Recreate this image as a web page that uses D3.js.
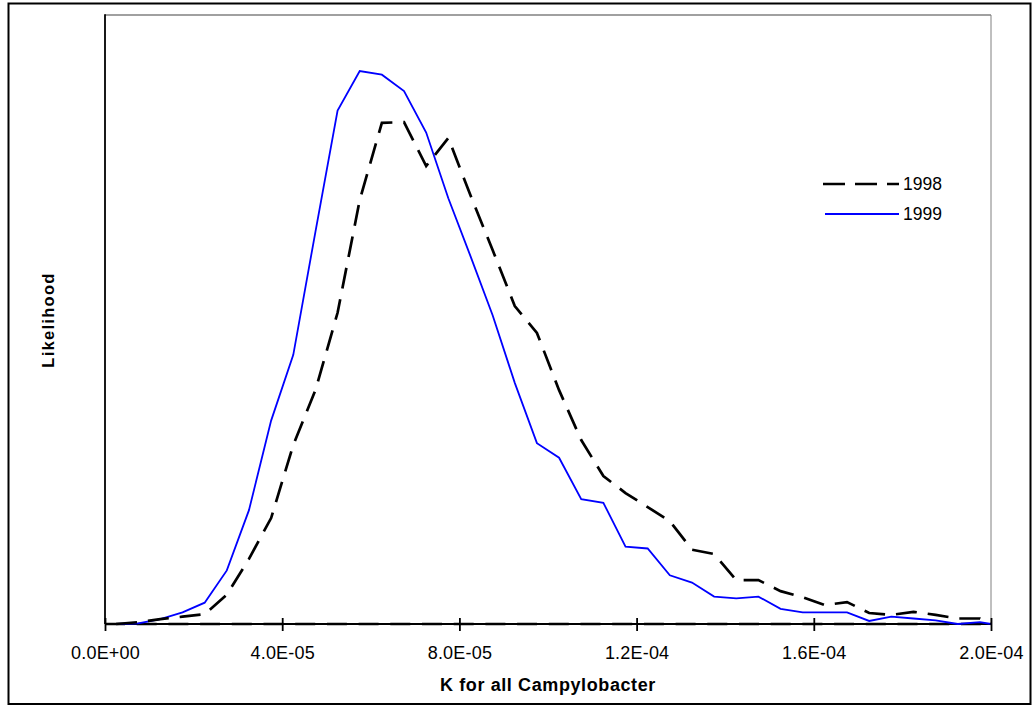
<!DOCTYPE html>
<html>
<head>
<meta charset="utf-8">
<script src="https://cdn.jsdelivr.net/npm/d3@7"></script>
<style>
  html, body { margin: 0; padding: 0; background: #fff; }
  svg { display: block; }
  text { font-family: "Liberation Sans", Arial, sans-serif; fill: #000; }
</style>
</head>
<body>
<svg id="chart" width="1036" height="706"></svg>
<script>
// ---- data ----
// bin midpoints (K values), 2.5e-6 .. 197.5e-6, then closing point at 2.0e-4
const kValues = d3.range(40).map(i => (2.5 + 5 * i) * 1e-6).concat([2.0e-4]);
const series1998 = [0, 0.3, 0.8, 1.2, 1.6, 4.8, 10.7, 17.4, 29.4, 38.4,
  51.1, 69.6, 82.3, 82.4, 75.2, 79.8, 70.4, 61.4, 52.2, 47.8,
  38.4, 30.2, 24.3, 21.5, 19.2, 16.9, 12.2, 11.5, 7.2, 7.2,
  5.4, 4.4, 3.1, 3.6, 1.8, 1.5, 2.0, 1.5, 0.9, 0.9, 0];
const series1999 = [0, 0.1, 0.8, 1.9, 3.5, 8.8, 18.7, 33.4, 44.2, 64.4,
  84.3, 90.8, 90.2, 87.5, 80.7, 69.9, 60.4, 50.7, 39.6, 29.7,
  27.3, 20.5, 19.9, 12.7, 12.4, 8.0, 6.8, 4.5, 4.2, 4.5,
  2.5, 1.9, 1.9, 1.9, 0.5, 1.2, 0.9, 0.6, 0, 0.3, 0];
// 1998 series also runs back along zero
const baseline1998K = [0, 2.0e-4];
const baseline1998V = [0, 0];
const xTicks = [0, 4e-5, 8e-5, 1.2e-4, 1.6e-4, 2.0e-4];
const xTickLabels = ["0.0E+00", "4.0E-05", "8.0E-05", "1.2E-04", "1.6E-04", "2.0E-04"];
const legendNames = ["1998", "1999"];
const xTitle = "K for all Campylobacter";
const yTitle = "Likelihood";

// ---- layout ----
const svg = d3.select("#chart");
const plot = { left: 105, right: 991, top: 15, bottom: 624 };

const x = d3.scaleLinear().domain([0, 2.0e-4]).range([plot.left, plot.right]);
const y = d3.scaleLinear().domain([0, 100]).range([plot.bottom, plot.top]);

// outer frame
svg.append("rect")
  .attr("x", 8.5).attr("y", 3.5).attr("width", 1022).attr("height", 700.5)
  .attr("fill", "none").attr("stroke", "#000").attr("stroke-width", 2);

// plot area border (gray top & right)
svg.append("line").attr("x1", plot.left).attr("x2", plot.right)
  .attr("y1", plot.top).attr("y2", plot.top)
  .attr("stroke", "#808080").attr("stroke-width", 1.7);
svg.append("line").attr("x1", plot.right).attr("x2", plot.right)
  .attr("y1", plot.top).attr("y2", plot.bottom)
  .attr("stroke", "#808080").attr("stroke-width", 1);

// left axis line
svg.append("line").attr("x1", plot.left).attr("x2", plot.left)
  .attr("y1", plot.top - 0.8).attr("y2", plot.bottom)
  .attr("stroke", "#000").attr("stroke-width", 1.8);

// bottom axis
const xAxis = d3.axisBottom(x).tickValues(xTicks)
  .tickFormat((d, i) => xTickLabels[i]).tickSize(7).tickPadding(16);
const gx = svg.append("g").attr("transform", `translate(0,${plot.bottom})`).call(xAxis);
gx.select(".domain").attr("stroke", "#000").attr("stroke-width", 1.8)
  .attr("d", `M${plot.left},0H${plot.right}`);
gx.selectAll(".tick line").attr("stroke", "#000").attr("stroke-width", 1.8)
  .attr("y1", -6).attr("y2", 7);
gx.selectAll(".tick text")
  .style("font-family", '"Liberation Sans", Arial, sans-serif')
  .style("font-size", "18px").style("letter-spacing", "0.2px")
  .attr("fill", "#000").attr("dy", null).attr("y", 35);

// lines
const line = d3.line().x(d => x(d[0])).y(d => y(d[1]));
const data1998 = kValues.map((k, i) => [k, series1998[i]]);
const data1999 = kValues.map((k, i) => [k, series1999[i]]);
const base1998 = baseline1998K.map((k, i) => [k, baseline1998V[i]]);

svg.append("path").datum(base1998).attr("d", line)
  .attr("fill", "none").attr("stroke", "#000").attr("stroke-width", 2.7)
  .attr("stroke-dasharray", "20,11.7");
svg.append("path").datum(data1999).attr("d", line)
  .attr("fill", "none").attr("stroke", "#0000ff").attr("stroke-width", 1.8)
  .attr("stroke-linejoin", "miter");
svg.append("path").datum(data1998).attr("d", line)
  .attr("fill", "none").attr("stroke", "#000").attr("stroke-width", 2.7)
  .attr("stroke-dasharray", "21,11").attr("stroke-linejoin", "miter");

// legend
const leg = svg.append("g");
const legStyles = [
  { stroke: "#000", width: 2.7, dash: "22,10", y: 184, x1: 823 },
  { stroke: "#0000ff", width: 1.8, dash: null, y: 214, x1: 825 }
];
legendNames.forEach((name, i) => {
  const s = legStyles[i];
  leg.append("line").attr("x1", s.x1).attr("x2", 899).attr("y1", s.y).attr("y2", s.y)
    .attr("stroke", s.stroke).attr("stroke-width", s.width)
    .attr("stroke-dasharray", s.dash);
  leg.append("text").attr("x", 903).attr("y", s.y + 6)
    .style("font-size", "17.5px").text(name);
});

// axis titles
svg.append("text").attr("x", 548).attr("y", 691).attr("text-anchor", "middle")
  .style("font-size", "18px").style("font-weight", "bold").style("letter-spacing", "0.6px")
  .text(xTitle);
svg.append("text").attr("transform", "translate(54,320) rotate(-90)")
  .attr("text-anchor", "middle")
  .style("font-size", "16.5px").style("font-weight", "bold").style("letter-spacing", "1.3px")
  .text(yTitle);
</script>
</body>
</html>
